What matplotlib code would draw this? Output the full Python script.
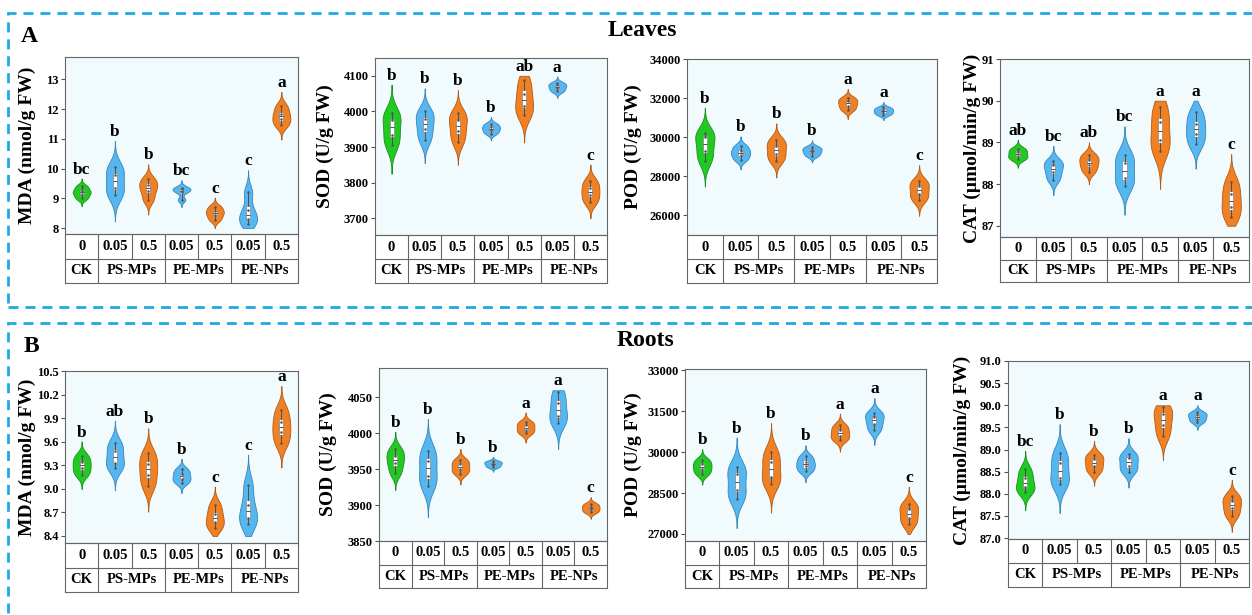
import matplotlib
matplotlib.use('Agg')
import matplotlib.pyplot as plt
import numpy as np
from matplotlib.patches import Rectangle
from matplotlib.ticker import FormatStrFormatter

plt.rcParams['font.family'] = 'Liberation Serif'
plt.rcParams['font.weight'] = 'bold'

# categories
doses = ['0', '0.05', '0.5', '0.05', '0.5', '0.05', '0.5']
treatments = ['CK', 'PS-MPs', 'PE-MPs', 'PE-NPs']
treatment_span = [1, 2, 2, 2]
colors = ['#22c922', '#55b6f0', '#f08024', '#55b6f0', '#f08024', '#55b6f0', '#f08024']
edges = ['#1a8f1a', '#3a86b8', '#b35a14', '#3a86b8', '#b35a14', '#3a86b8', '#b35a14']

leaves_mda = [[9.0, 9.15, 9.25, 9.4], [9.1, 9.35, 9.8, 10.05], [8.95, 9.25, 9.45, 9.65],
              [8.95, 9.22, 9.3, 9.36], [8.28, 8.45, 8.57, 8.72], [8.15, 8.3, 8.6, 9.2],
              [11.45, 11.65, 11.85, 12.1]]
leaves_sod = [[3905, 3935, 3975, 3995], [3920, 3950, 3980, 4000], [3915, 3945, 3975, 3995],
              [3938, 3948, 3956, 3965], [3990, 4015, 4050, 4088], [4056, 4065, 4073, 4080],
              [3745, 3765, 3785, 3805]]
leaves_pod = [[28800, 29300, 30000, 30200], [28850, 29100, 29300, 29550], [28800, 29150, 29550, 29850],
              [29050, 29220, 29370, 29500], [31400, 31620, 31830, 32000], [31150, 31280, 31400, 31520],
              [26800, 27100, 27500, 27750]]
leaves_cat = [[88.6, 88.67, 88.77, 88.85], [88.1, 88.28, 88.45, 88.55], [88.3, 88.45, 88.58, 88.7],
              [87.95, 88.15, 88.5, 88.7], [88.8, 89.05, 89.5, 89.85], [88.95, 89.2, 89.45, 89.72],
              [87.2, 87.45, 87.75, 88.05]]
roots_mda = [[9.18, 9.26, 9.34, 9.42], [9.27, 9.33, 9.48, 9.58], [9.03, 9.18, 9.32, 9.45],
             [9.08, 9.13, 9.19, 9.25], [8.5, 8.58, 8.68, 8.8], [8.55, 8.63, 8.8, 9.05],
             [9.58, 9.72, 9.85, 10.0]]
roots_sod = [[3945, 3958, 3968, 3978], [3927, 3940, 3962, 3976], [3944, 3950, 3957, 3963],
             [3953, 3956, 3959, 3961], [4000, 4005, 4011, 4016], [4015, 4024, 4042, 4058],
             [3890, 3894, 3898, 3902]]
roots_pod = [[29200, 29380, 29550, 29720], [28300, 28600, 29200, 29450], [28850, 29100, 29650, 30000],
             [29300, 29480, 29650, 29850], [30450, 30600, 30800, 30980], [30800, 31050, 31300, 31450],
             [27350, 27600, 27900, 28100]]
roots_cat = [[88.05, 88.15, 88.35, 88.55], [88.22, 88.35, 88.7, 88.92], [88.5, 88.63, 88.78, 88.88],
             [88.5, 88.62, 88.8, 88.9], [89.3, 89.55, 89.8, 89.95], [89.62, 89.7, 89.78, 89.84],
             [87.5, 87.67, 87.83, 87.96]]

leaves_mda_letters = ['bc', 'b', 'b', 'bc', 'c', 'c', 'a']
leaves_sod_letters = ['b', 'b', 'b', 'b', 'ab', 'a', 'c']
leaves_pod_letters = ['b', 'b', 'b', 'b', 'a', 'a', 'c']
leaves_cat_letters = ['ab', 'bc', 'ab', 'bc', 'a', 'a', 'c']
roots_mda_letters = ['b', 'ab', 'b', 'b', 'c', 'c', 'a']
roots_sod_letters = ['b', 'b', 'b', 'b', 'a', 'a', 'c']
roots_pod_letters = ['b', 'b', 'b', 'b', 'a', 'a', 'c']
roots_cat_letters = ['bc', 'b', 'b', 'b', 'a', 'a', 'c']

leaves_mda_ticks = [8, 9, 10, 11, 12, 13]
leaves_sod_ticks = [3700, 3800, 3900, 4000, 4100]
leaves_pod_ticks = [26000, 28000, 30000, 32000, 34000]
leaves_cat_ticks = [87, 88, 89, 90, 91]
roots_mda_ticks = [8.4, 8.7, 9.0, 9.3, 9.6, 9.9, 10.2, 10.5]
roots_sod_ticks = [3850, 3900, 3950, 4000, 4050]
roots_pod_ticks = [27000, 28500, 30000, 31500, 33000]
roots_cat_ticks = [87.0, 87.5, 88.0, 88.5, 89.0, 89.5, 90.0, 90.5, 91.0]

W, H = 1252, 615

# (values, letters, ylabel, ticks, ylim, clip, fmt, axes px box l,t,r,b, table bottom, ylabel x)
panels = [
    (leaves_mda, leaves_mda_letters, 'MDA (nmol/g FW)', leaves_mda_ticks, (7.8, 13.75), (8, 13.75), '%d', (65, 57, 298, 234), 283, 27),
    (leaves_sod, leaves_sod_letters, 'SOD (U/g FW)', leaves_sod_ticks, (3653, 4150), (3700, 4100), '%d', (375, 58, 607, 235), 283, 325),
    (leaves_pod, leaves_pod_letters, 'POD (U/g FW)', leaves_pod_ticks, (25000, 34000), (25000, 34000), '%d', (687, 59, 937, 235), 283, 633),
    (leaves_cat, leaves_cat_letters, 'CAT (µmol/min/g FW)', leaves_cat_ticks, (86.73, 91.0), (87, 90), '%d', (1000, 59, 1249, 237), 282, 972),
    (roots_mda, roots_mda_letters, 'MDA (nmol/g FW)', roots_mda_ticks, (8.31, 10.5), (8.4, 10.5), '%.1f', (65, 371, 298, 543), 592, 27),
    (roots_sod, roots_sod_letters, 'SOD (U/g FW)', roots_sod_ticks, (3850, 4091), (3850, 4060), '%d', (379, 368, 607, 541), 588, 328),
    (roots_pod, roots_pod_letters, 'POD (U/g FW)', roots_pod_ticks, (26742, 33050), (27000, 33050), '%d', (685, 369, 926, 541), 588, 633),
    (roots_cat, roots_cat_letters, 'CAT (µmol/min/g FW)', roots_cat_ticks, (86.98, 91.0), (87, 90), '%.1f', (1008, 361, 1249, 539), 587, 962),
]


def kde(vals, lo, hi):
    v = np.asarray(vals, dtype=float)
    q1, q3 = np.percentile(v, [25, 75])
    bw = 0.9 * min(v.std(ddof=1), (q3 - q1) / 1.34) * len(v) ** -0.2
    y = np.linspace(max(lo, v.min() - 3 * bw), min(hi, v.max() + 3 * bw), 300)
    d = np.exp(-0.5 * ((y[:, None] - v[None, :]) / bw) ** 2).sum(axis=1)
    return y, d / d.max()


fig = plt.figure(figsize=(W / 100, H / 100), dpi=100)

for vals, letters, ylabel, ticks, ylim, clip, fmt, (l, t, r, b), tb, lx in panels:
    ax = fig.add_axes([l / W, 1 - b / H, (r - l) / W, (b - t) / H])
    ax.set_facecolor('#f1fafc')
    for i, v in enumerate(vals):
        y, d = kde(v, clip[0], clip[1])
        ax.fill_betweenx(y, i - 0.27 * d, i + 0.27 * d, facecolor=colors[i],
                         edgecolor=edges[i], linewidth=0.6, zorder=2)
        ax.boxplot([v], positions=[i], widths=0.12, patch_artist=True, showfliers=False,
                   showcaps=False, manage_ticks=False, zorder=3,
                   boxprops=dict(facecolor='white', edgecolor='#888888', linewidth=0.5),
                   medianprops=dict(color='#333333', linewidth=0.6),
                   whiskerprops=dict(color='#444444', linewidth=0.6))
        ax.scatter([i] * len(v), v, s=0.7, color='#555555', zorder=4)
        ax.annotate(letters[i], xy=(i, y.max()), xytext=(0, 3.5), textcoords='offset points',
                    ha='center', va='baseline', fontsize=12.5, fontweight='bold')
    ax.set_xlim(-0.5, 6.5)
    ax.set_ylim(*ylim)
    ax.set_yticks(ticks)
    ax.yaxis.set_major_formatter(FormatStrFormatter(fmt))
    ax.set_xticks([])
    ax.tick_params(axis='y', labelsize=9, length=3, width=0.8, color='#555555', pad=1.5)
    for s in ax.spines.values():
        s.set_color('#666666')
        s.set_linewidth(0.8)
    fig.text(lx / W, 1 - (t + b) / 2 / H, ylabel, rotation=90, ha='center', va='center',
             fontsize=14, fontweight='bold')

    # category table below the axes
    tx = fig.add_axes([l / W, 1 - tb / H, (r - l) / W, (tb - b) / H])
    tx.set_xlim(-0.5, 6.5)
    tx.set_ylim(0, 2)
    tx.axis('off')
    lc = dict(color='#666666', linewidth=0.8)
    tx.plot([-0.5, 6.5, 6.5, -0.5, -0.5], [0, 0, 2, 2, 0], **lc, clip_on=False)
    tx.plot([-0.5, 6.5], [1, 1], **lc)
    for k in range(1, 7):
        tx.plot([k - 0.5, k - 0.5], [1, 2], **lc)
    for k, dose in enumerate(doses):
        tx.text(k, 1.5, dose, ha='center', va='center', fontsize=10.5, fontweight='bold')
    start = 0
    for name, span in zip(treatments, treatment_span):
        if start > 0:
            tx.plot([start - 0.5, start - 0.5], [0, 1], **lc)
        tx.text(start + (span - 1) / 2, 0.5, name, ha='center', va='center',
                fontsize=10.5, fontweight='bold')
        start += span

# dashed frames round each row
for top, bottom in [(13, 307), (323, 640)]:
    fig.add_artist(Rectangle((8 / W, 1 - bottom / H), 1.2, (bottom - top) / H,
                             transform=fig.transFigure, fill=False, edgecolor='#1fa9e6',
                             linewidth=2, linestyle=(0, (3.6, 2.5)), clip_on=False))

fig.text(642 / W, 1 - 31 / H, 'Leaves', ha='center', va='center', fontsize=17, fontweight='bold')
fig.text(645 / W, 1 - 340 / H, 'Roots', ha='center', va='center', fontsize=17, fontweight='bold')
fig.text(29 / W, 1 - 36 / H, 'A', ha='center', va='center', fontsize=17, fontweight='bold')
fig.text(31 / W, 1 - 347 / H, 'B', ha='center', va='center', fontsize=17, fontweight='bold')

fig.savefig('out.png', dpi=100)
